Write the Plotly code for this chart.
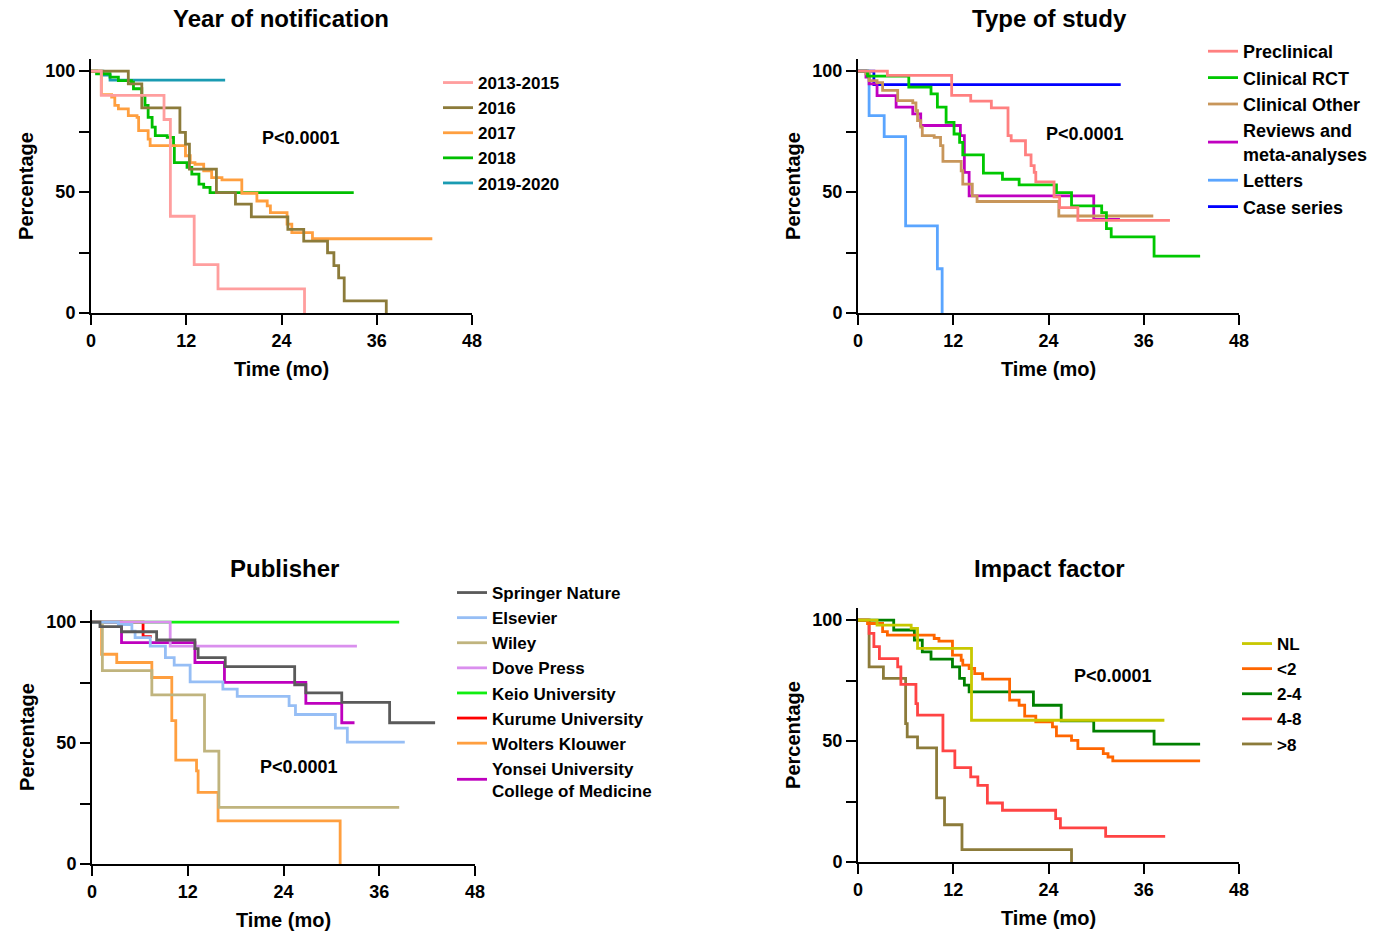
import plotly.graph_objects as go

FONT = "Liberation Sans"
W, H = 1379, 935

# ---------------- Panel 1: Year of notification ----------------
p1_names = ["2013-2015", "2016", "2017", "2018", "2019-2020"]
p1_colors = ["#FF9E9E", "#8C7B3A", "#FF9F3F", "#00BF00", "#1A9BB2"]
p1_t_1315 = [0, 1.3, 9.2, 10.0, 13.0, 16.0, 26.9]
p1_s_1315 = [100, 90, 80, 40, 20, 10, 0]
p1_t_2016 = [0, 4.7, 6.4, 11.2, 11.9, 12.4, 15.8, 18.2, 20.2, 24.8, 26.8, 29.8, 30.6, 31.2, 31.9, 37.2]
p1_s_2016 = [100, 94.7, 84.8, 74.7, 69.8, 59.5, 49.8, 45.0, 39.7, 34.6, 29.7, 24.9, 19.6, 14.5, 5.0, 0]
p1_t_2017 = [0, 1.3, 2.6, 3.0, 3.45, 4.7, 5.8, 6.0, 7.2, 7.45, 11.9, 12.5, 13.1, 14.2, 15.2, 16.5,
             19.0, 20.9, 22.2, 22.6, 24.7, 25.3, 27.9, 43.0]
p1_s_2017 = [100, 90.3, 89.2, 85.8, 84.4, 81.6, 80.9, 75.4, 71.9, 69.2, 65.0, 62.2, 61.5, 58.8, 56.0, 55.0,
             49.5, 46.3, 44.3, 41.5, 36.7, 33.2, 30.7, 30.7]
p1_t_2018 = [0, 0.7, 2.4, 3.45, 5.1, 5.35, 6.4, 6.8, 7.2, 7.7, 8.1, 9.6, 10.4, 10.5, 12.1, 12.7, 13.6, 14.2, 15.0, 33.1]
p1_s_2018 = [100, 98.9, 97.5, 96.1, 95.4, 92.7, 89.9, 85.8, 80.9, 76.8, 73.3, 72.6, 69.2, 62.2, 60.2, 57.4, 53.3, 51.9, 49.8, 49.8]
p1_t_1920 = [0, 1.5, 2.4, 16.9]
p1_s_1920 = [100, 98.3, 96.3, 96.3]

# ---------------- Panel 2: Type of study ----------------
p2_names = ["Preclinical", "Clinical RCT", "Clinical Other", "Reviews and<br>meta-analyses", "Letters", "Case series"]
p2_colors = ["#FF8080", "#00C800", "#C8965A", "#C000C0", "#5AA5FF", "#0000FF"]
p2_t_pre = [0, 3.7, 11.8, 14.2, 16.8, 18.9, 19.3, 21.1, 21.8, 22.2, 22.4, 24.7, 25.4, 27.7, 39.3]
p2_s_pre = [100, 98.2, 90.0, 87.6, 84.8, 73.3, 71.2, 65.4, 60.9, 58.1, 54.2, 48.0, 43.6, 38.3, 38.3]
p2_t_rct = [0, 1.2, 6.4, 9.2, 10.0, 11.1, 12.1, 12.8, 13.2, 15.8, 18.2, 20.3, 25.0, 26.9, 30.7, 31.3, 31.9, 37.3, 43.1]
p2_s_rct = [100, 97.9, 93.4, 90.6, 85.1, 78.8, 74.0, 70.5, 65.4, 57.8, 55.3, 53.0, 49.8, 44.3, 41.5, 34.9, 31.5, 23.5, 23.5]
p2_t_oth = [0, 1.0, 1.4, 2.4, 3.1, 5.0, 6.9, 7.3, 7.5, 7.9, 8.1, 9.6, 10.4, 10.7, 13.0, 13.2, 14.4, 15.0, 25.3, 37.2]
p2_s_oth = [100, 98.9, 96.1, 95.2, 92.0, 87.8, 86.9, 83.7, 79.5, 76.8, 73.3, 72.6, 69.2, 62.7, 58.8, 53.3, 48.4, 46.1, 40.1, 40.1]
p2_t_rev = [0, 1.0, 1.4, 2.4, 4.8, 6.9, 7.9, 12.9, 13.4, 14.0, 29.7, 33.0]
p2_s_rev = [100, 97.5, 94.7, 89.9, 85.1, 82.3, 77.5, 73.3, 58.1, 48.4, 38.7, 38.7]
p2_t_let = [0, 1.4, 3.3, 6.0, 10.0, 10.6]
p2_s_let = [100, 81.6, 72.9, 36.0, 18.3, 0]
p2_t_cas = [0, 2.0, 33.1]
p2_s_cas = [100, 94.4, 94.4]

# ---------------- Panel 3: Publisher ----------------
p3_names = ["Springer Nature", "Elsevier", "Wiley", "Dove Press", "Keio University",
            "Kurume University", "Wolters Klouwer", "Yonsei University<br>College of Medicine"]
p3_colors = ["#5A5A5A", "#96BEF5", "#C0B47E", "#DA8FEE", "#11EE11", "#FF0000", "#FF9F3F", "#BE00BE"]
p3_t_spr = [0, 1.0, 3.7, 8.1, 12.9, 13.3, 16.7, 25.4, 26.8, 31.3, 37.3, 43.0]
p3_s_spr = [100, 98.1, 96.0, 92.6, 89.0, 85.3, 81.6, 74.1, 70.7, 66.8, 58.4, 58.4]
p3_t_els = [0, 3.3, 5.0, 5.4, 7.3, 9.2, 10.3, 12.3, 16.4, 18.2, 24.7, 25.5, 30.5, 32.0, 39.2]
p3_s_els = [100, 99.0, 96.3, 93.6, 90.1, 85.3, 82.2, 75.3, 72.3, 69.3, 65.5, 61.8, 56.2, 50.4, 50.4]
p3_t_wil = [0, 1.3, 7.5, 14.1, 15.9, 38.5]
p3_s_wil = [100, 79.9, 69.9, 46.7, 23.4, 23.4]
p3_t_dov = [0, 9.8, 33.2]
p3_s_dov = [100, 90.1, 90.1]
p3_t_kei = [0, 38.5]
p3_s_kei = [100, 100]
p3_t_kur = [0, 6.4, 7.5]
p3_s_kur = [100, 94.0, 94.0]
p3_t_wol = [0, 1.2, 3.1, 7.5, 10.0, 10.5, 13.1, 13.3, 15.8, 31.1]
p3_s_wol = [100, 86.7, 83.3, 77.1, 59.3, 42.9, 38.5, 29.6, 17.8, 0]
p3_t_yon = [0, 3.7, 12.9, 16.6, 26.8, 31.3, 32.9]
p3_s_yon = [100, 91.5, 83.3, 75.1, 66.4, 58.4, 58.4]

# ---------------- Panel 4: Impact factor ----------------
p4_names = ["NL", "<2", "2-4", "4-8", ">8"]
p4_colors = ["#C8C800", "#FF6600", "#008000", "#FF4444", "#8C7B3A"]
p4_t_nl = [0, 2.4, 6.7, 7.5, 14.3, 38.6]
p4_s_nl = [100, 97.9, 96.6, 88.3, 58.6, 58.6]
p4_t_lt2 = [0, 1.2, 3.1, 3.7, 9.6, 10.2, 11.9, 13.0, 13.2, 14.0, 14.7, 15.7, 19.1, 20.3, 21.0, 22.4,
            24.5, 25.0, 26.9, 27.7, 30.9, 31.5, 32.1, 43.1]
p4_s_lt2 = [100, 98.6, 95.2, 93.8, 92.4, 91.3, 85.5, 83.4, 81.4, 80.0, 77.9, 75.6, 66.9, 64.8, 60.3, 57.9,
            55.9, 52.1, 50.3, 46.9, 44.8, 43.4, 41.8, 41.8]
p4_t_24 = [0, 4.5, 7.1, 8.1, 9.2, 11.9, 12.8, 13.4, 14.0, 22.1, 25.6, 29.7, 37.3, 43.1]
p4_s_24 = [100, 95.9, 91.7, 86.9, 83.9, 80.7, 75.9, 73.1, 70.3, 64.8, 58.3, 54.1, 48.7, 48.7]
p4_t_48 = [0, 1.4, 2.0, 2.7, 5.0, 5.4, 7.3, 7.5, 10.7, 12.2, 14.2, 15.1, 16.3, 18.2, 24.9, 25.5, 31.2, 38.7]
p4_s_48 = [100, 94.5, 89.0, 84.1, 80.7, 73.4, 65.5, 60.7, 45.9, 39.0, 35.2, 31.7, 24.4, 21.4, 17.9, 14.1, 10.6, 10.6]
p4_t_gt8 = [0, 1.4, 3.2, 6.0, 6.2, 7.5, 9.9, 10.9, 13.1, 26.9]
p4_s_gt8 = [100, 80.7, 75.9, 57.2, 51.7, 47.2, 26.5, 15.4, 5.1, 0]

x_ticks = [0, 12, 24, 36, 48]
y_ticks = [0, 25, 50, 75, 100]
y_ticktext = ["0", "", "50", "", "100"]

titles = ["Year of notification", "Type of study", "Publisher", "Impact factor"]

panels = [
    (p1_names, p1_colors, [(p1_t_1315, p1_s_1315), (p1_t_2016, p1_s_2016), (p1_t_2017, p1_s_2017),
                           (p1_t_2018, p1_s_2018), (p1_t_1920, p1_s_1920)]),
    (p2_names, p2_colors, [(p2_t_pre, p2_s_pre), (p2_t_rct, p2_s_rct), (p2_t_oth, p2_s_oth),
                           (p2_t_rev, p2_s_rev), (p2_t_let, p2_s_let), (p2_t_cas, p2_s_cas)]),
    (p3_names, p3_colors, [(p3_t_spr, p3_s_spr), (p3_t_els, p3_s_els), (p3_t_wil, p3_s_wil),
                           (p3_t_dov, p3_s_dov), (p3_t_kei, p3_s_kei), (p3_t_kur, p3_s_kur),
                           (p3_t_wol, p3_s_wol), (p3_t_yon, p3_s_yon)]),
    (p4_names, p4_colors, [(p4_t_nl, p4_s_nl), (p4_t_lt2, p4_s_lt2), (p4_t_24, p4_s_24),
                           (p4_t_48, p4_s_48), (p4_t_gt8, p4_s_gt8)]),
]

# pixel geometry (x0, x1, ytop, ybottom) of each plot area
geom = [(91, 472, 59, 313), (858, 1239, 59, 313), (92, 475, 610, 864), (858, 1239, 608, 862)]
legend_pos = [(438, 65), (1203, 33), (452, 575), (1237, 626)]
legend_size = [17, 18, 17, 17]
pval_pos = [(301, 138), (1085, 134), (299, 767), (1113, 676)]
title_pos = [(281, 18), (1049, 18), (284, 568), (1049, 568)]

fig = go.Figure()
legend_keys = ["legend", "legend2", "legend3", "legend4"]

for i, (names, colors, series) in enumerate(panels):
    ax = "" if i == 0 else str(i + 1)
    n = len(names)
    # draw in reverse so the first dataset is on top; keep legend order with legendrank
    for j in reversed(range(n)):
        t, s = series[j]
        fig.add_trace(go.Scatter(
            x=t, y=s, mode="lines", line=dict(color=colors[j], width=2.8, shape="hv"),
            name=names[j], xaxis="x" + ax, yaxis="y" + ax, legend=legend_keys[i],
            legendrank=j + 1, hoverinfo="skip"))

common = dict(showline=True, linecolor="black", linewidth=2, ticks="outside", ticklen=10,
              tickwidth=2, tickcolor="black", showgrid=False, zeroline=False, automargin=False,
              tickfont=dict(family=FONT, size=18, color="black", weight="bold"))

layout = dict(width=W, height=H, margin=dict(l=0, r=0, t=0, b=0, pad=0),
              plot_bgcolor="white", paper_bgcolor="white", showlegend=True,
              font=dict(family=FONT, color="black"))

annotations = []
for i in range(4):
    ax = "" if i == 0 else str(i + 1)
    x0, x1, yt, yb = geom[i]
    layout["xaxis" + ax] = dict(common, domain=[x0 / W, x1 / W], range=[0, 48], tickvals=x_ticks,
                                anchor="y" + ax,
                                title=dict(text="Time (mo)", standoff=12,
                                           font=dict(family=FONT, size=20, weight="bold", color="black")))
    layout["yaxis" + ax] = dict(common, domain=[1 - yb / H, 1 - yt / H], range=[0, 105],
                                tickvals=y_ticks, ticktext=y_ticktext, anchor="x" + ax,
                                title=dict(text="Percentage", standoff=6,
                                           font=dict(family=FONT, size=20, weight="bold", color="black")))
    lx, ly = legend_pos[i]
    layout[legend_keys[i]] = dict(x=lx / W, y=1 - ly / H, xanchor="left", yanchor="top",
                                  bgcolor="rgba(0,0,0,0)", itemwidth=30, tracegroupgap=0,
                                  traceorder="normal",
                                  font=dict(family=FONT, size=legend_size[i], weight="bold", color="black"))
    px, py = pval_pos[i]
    annotations.append(dict(text="P<0.0001", x=px / W, y=1 - py / H, xref="paper", yref="paper",
                            showarrow=False, xanchor="center", yanchor="middle",
                            font=dict(family=FONT, size=18, weight="bold", color="black")))
    tx, ty = title_pos[i]
    annotations.append(dict(text=titles[i], x=tx / W, y=1 - ty / H, xref="paper", yref="paper",
                            showarrow=False, xanchor="center", yanchor="middle",
                            font=dict(family=FONT, size=24, weight="bold", color="black")))

layout["annotations"] = annotations
fig.update_layout(**layout)
fig.write_html("out.html", config={"displayModeBar": False},
               post_script="document.body.style.margin='0px';")
